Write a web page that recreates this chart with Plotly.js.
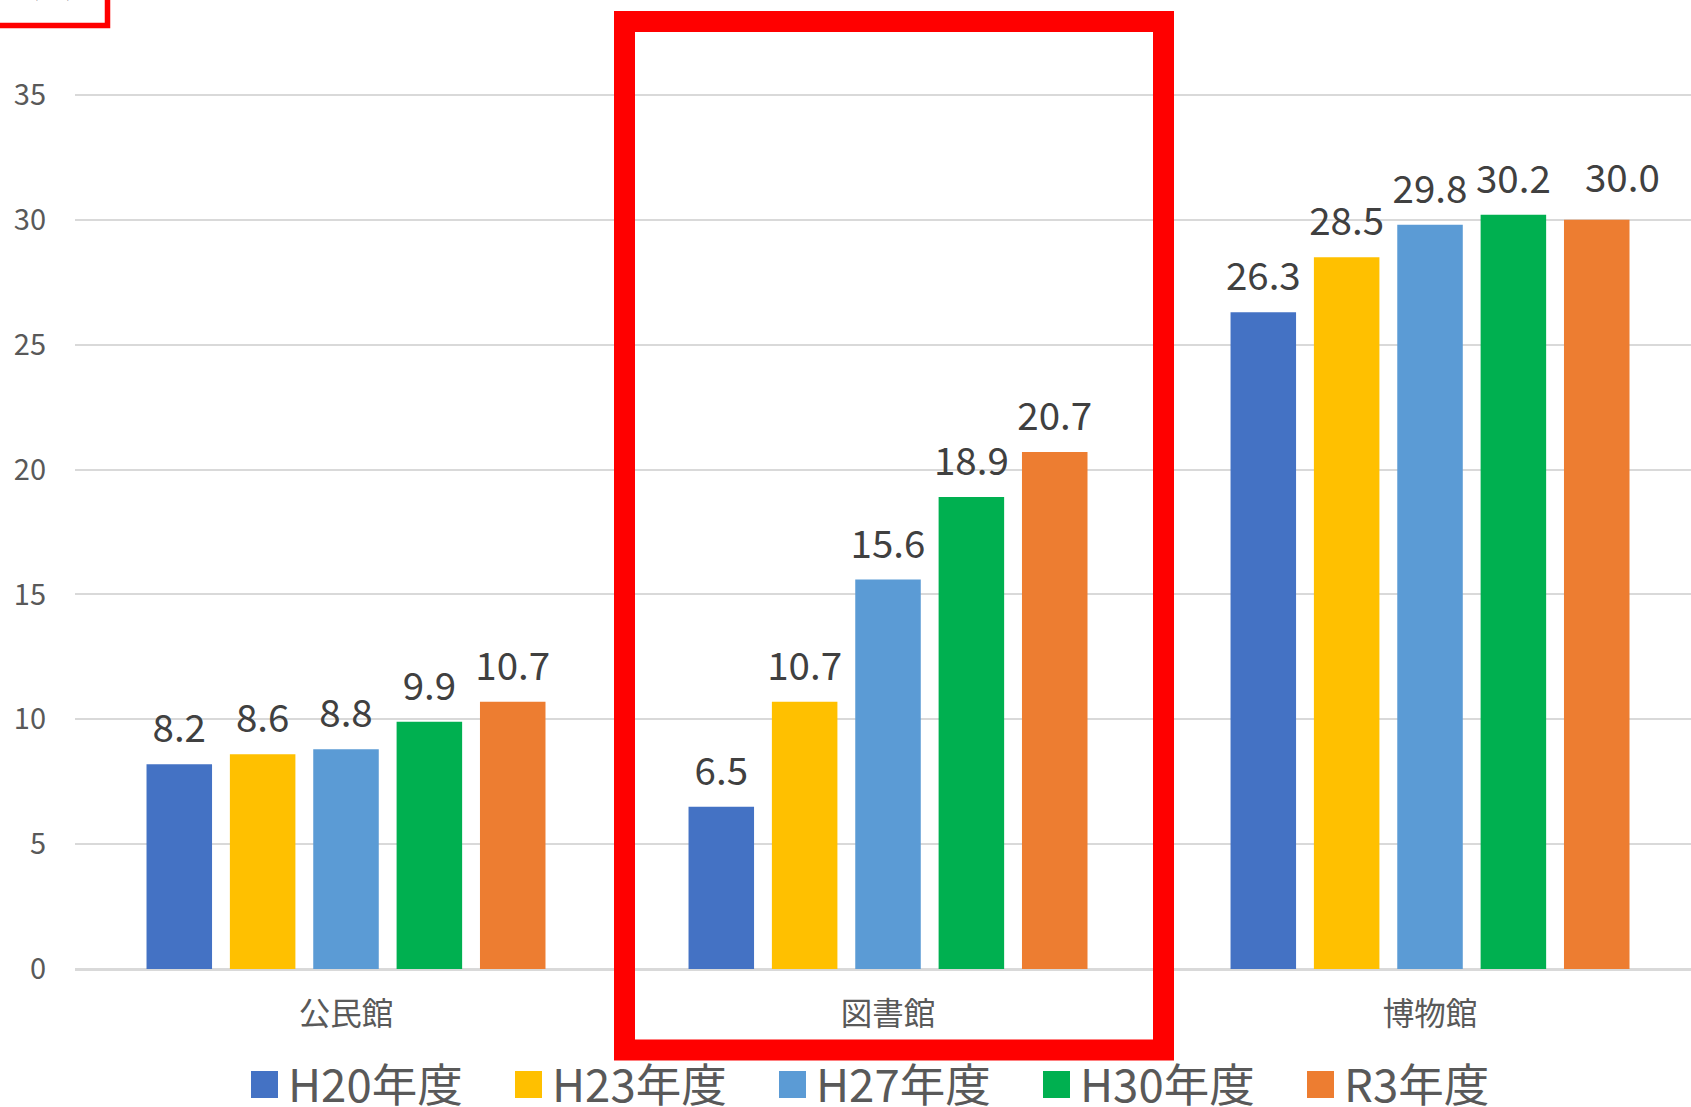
<!DOCTYPE html>
<html>
<head>
<meta charset="utf-8">
<script src="https://cdn.plot.ly/plotly-3.0.1.min.js"></script>
<style>
  html, body { margin: 0; padding: 0; background: #ffffff; }
  #chart { width: 1691px; height: 1107px; }
</style>
</head>
<body>
<div id="chart"></div>
<script>
// ---- data ----
const categories = ['公民館', '図書館', '博物館'];
const seriesNames = ['H20年度', 'H23年度', 'H27年度', 'H30年度', 'R3年度'];
const h20 = [8.2, 6.5, 26.3];
const h23 = [8.6, 10.7, 28.5];
const h27 = [8.8, 15.6, 29.8];
const h30 = [9.9, 18.9, 30.2];
const r3  = [10.7, 20.7, 30.0];
const unitLabel = '(%)';
const yTickVals = [0, 5, 10, 15, 20, 25, 30, 35];

const seriesValues = [h20, h23, h27, h30, r3];
const colors = ['#4472C4', '#FFC000', '#5B9BD5', '#00B050', '#ED7D31'];

// in the original, the label of R3年度 / 博物館 is nudged right and up
const nudge = { series: 4, cat: 2, dx: 26, dy: 15 };

// ---- layout geometry (pixels) ----
const W = 1691, H = 1107;
const M = { l: 75, r: 0, t: 0, b: 138 };
const plotW = W - M.l - M.r, plotH = H - M.t - M.b;
const px2x = p => (p - M.l) / plotW;
const px2y = p => (M.t + plotH - p) / plotH;

const FONT = '"Noto Sans CJK JP", "Noto Sans", sans-serif';
const GAP = 0.231;
const X_RANGE = [-0.5, 2.4815];
const LABEL_FONT = { family: FONT, size: 38.5, color: '#404040' };

const traces = [];
seriesValues.forEach((vals, i) => {
  traces.push({
    type: 'bar',
    name: seriesNames[i],
    x: categories,
    y: vals,
    offsetgroup: String(i),
    marker: { color: colors[i] },
    showlegend: false,
    hoverinfo: 'skip'
  });
});
seriesValues.forEach((vals, i) => {
  traces.push({
    type: 'scatter',
    mode: 'markers+text',
    x: categories,
    y: vals,
    offsetgroup: String(i),
    text: vals.map((v, j) => (i === nudge.series && j === nudge.cat) ? '' : v.toFixed(1)),
    textposition: 'top center',
    textfont: LABEL_FONT,
    marker: { size: 18, color: 'rgba(0,0,0,0)' },
    cliponaxis: false,
    showlegend: false,
    hoverinfo: 'skip'
  });
});

const shapes = [];
const annotations = [];

// nudged data label
{
  const pxPerCat = plotW / (X_RANGE[1] - X_RANGE[0]);
  const slot = pxPerCat * (1 - GAP) / seriesValues.length;
  const v = seriesValues[nudge.series][nudge.cat];
  annotations.push({
    xref: 'x', yref: 'y', x: categories[nudge.cat], y: v,
    xanchor: 'center', yanchor: 'bottom',
    xshift: (nudge.series - (seriesValues.length - 1) / 2) * slot + nudge.dx,
    yshift: nudge.dy,
    text: v.toFixed(1), showarrow: false, font: LABEL_FONT
  });
}

// big highlight box
shapes.push({
  type: 'rect', xref: 'paper', yref: 'paper',
  x0: px2x(624.5), x1: px2x(1163.5), y0: px2y(1050), y1: px2y(21.5),
  line: { color: '#FF0000', width: 21 }, fillcolor: 'rgba(0,0,0,0)', layer: 'above'
});
// small unit box (cut off at top-left)
shapes.push({
  type: 'rect', xref: 'paper', yref: 'paper',
  x0: px2x(-20), x1: px2x(107.5), y0: px2y(25.5), y1: px2y(-20),
  line: { color: '#FF0000', width: 5.5 }, fillcolor: 'rgba(0,0,0,0)', layer: 'above'
});
annotations.push({
  xref: 'paper', yref: 'paper', x: px2x(52), y: 1, xanchor: 'center', yanchor: 'bottom',
  yshift: -5, text: unitLabel, showarrow: false,
  font: { family: FONT, size: 28, color: '#000000' }
});

// manual legend
seriesNames.forEach((name, i) => {
  const left = 251 + i * 264;
  shapes.push({
    type: 'rect', xref: 'paper', yref: 'paper',
    x0: px2x(left), x1: px2x(left + 27), y0: px2y(1098), y1: px2y(1071),
    line: { width: 0 }, fillcolor: colors[i]
  });
  annotations.push({
    xref: 'paper', yref: 'paper', x: px2x(left + 35), y: px2y(1082),
    xanchor: 'left', yanchor: 'middle', text: name, showarrow: false,
    font: { family: FONT, size: 45.5, color: '#595959' }
  });
});

const layout = {
  width: W, height: H,
  margin: M,
  paper_bgcolor: '#ffffff', plot_bgcolor: '#ffffff',
  font: { family: FONT, color: '#595959' },
  barmode: 'group',
  bargap: GAP,
  bargroupgap: 0.214,
  scattermode: 'group',
  scattergap: GAP,
  showlegend: false,
  xaxis: {
    type: 'category',
    range: X_RANGE,
    showgrid: false,
    ticks: '',
    showline: true, linecolor: '#d9d9d9', linewidth: 2,
    tickfont: { family: FONT, size: 31.5, color: '#595959' },
    ticklabelstandoff: 16,
    fixedrange: true
  },
  yaxis: {
    range: [0, 38.8],
    tickvals: yTickVals,
    showgrid: true, gridcolor: '#d9d9d9', gridwidth: 2,
    zeroline: true, zerolinecolor: '#d9d9d9', zerolinewidth: 2,
    showline: false,
    ticks: '',
    tickfont: { family: FONT, size: 29, color: '#595959' },
    ticklabelstandoff: 28,
    fixedrange: true
  },
  shapes: shapes,
  annotations: annotations
};

Plotly.newPlot('chart', traces, layout, { displayModeBar: false, staticPlot: true });
</script>
</body>
</html>
